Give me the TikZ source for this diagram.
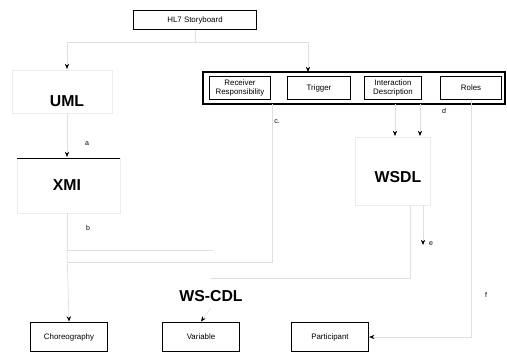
\documentclass[tikz,border=0pt]{standalone}
\usepackage{fontspec}
\setmainfont{Liberation Sans}
\usetikzlibrary{positioning,arrows.meta}
\tikzset{
  box/.style={draw, semithick, align=center, inner sep=1pt, font=\fontsize{4.5}{5}\selectfont},
  title/.style={font=\fontsize{9}{10}\selectfont\bfseries},
  tag/.style={font=\fontsize{4}{4}\selectfont},
  layer/.style={draw=gray!15, thin},
  conn/.style={gray!25, thin},
  tip/.style={-{Stealth[length=3pt,width=2.5pt,color=black]}}
}
\begin{document}
\begin{tikzpicture}[x=0.02cm, y=-0.02cm]
    \useasboundingbox (0,0) rectangle (507,358);

    % Storyboard
    \node[box, thin, minimum width=70pt, minimum height=11pt] (hl7) at (195,20) {HL7 Storyboard};

    % Container with message parts
    \draw[semithick] (203,72) rectangle (505,104);
    \coordinate (cont) at (308,72);
    \foreach \x/\w/\name/\label in {240/35/recv/{Receiver\\Responsibility}, 319/36/trig/Trigger,
                                   393/32/inter/{Interaction\\Description}, 471/35/roles/Roles} {
        \node[box, minimum width=\w pt, minimum height=13pt] (\name) at (\x,88) {\label};
    }

    % Layer regions (faint)
    \draw[layer] (12,70) rectangle (112,113);
    \draw[layer] (17,158) rectangle (120,213);
    \draw[thin] (17,158) -- (120,158);
    \draw[layer] (355,137) rectangle (430,205);

    % Layer titles
    \node[title] (uml) at (67,101) {UML};
    \node[title] (xmi) at (67,185) {XMI};
    \node[title] (wsdl) at (398,177) {WSDL};
    \node[title] (wscdl) at (211,296) {WS-CDL};

    % WS-CDL parts
    \foreach \x/\name/\label in {69/chor/Choreography, 201/var/Variable, 330/part/Participant} {
        \node[box, minimum width=44pt, minimum height=17pt] (\name) at (\x,337) {\label};
    }

    % Storyboard to UML and container
    \coordinate (split) at (195,42);
    \draw[conn] (hl7) -- (split);
    \draw[conn, tip] (split) -| (67,69);
    \draw[conn, tip] (split) -| (cont);

    % UML to XMI
    \draw[conn, tip] (67,113) -- (67,157);
    \node[tag] (ta) at (87,144) {a};

    % XMI to WS-CDL
    \coordinate (xj) at (67,250);
    \draw[conn] (67,213) -- (xj) -- (213,250);
    \draw[conn, tip] (xj) -- (chor.north);
    \node[tag] (tb) at (88,228) {b};

    % container to WS-CDL and WSDL
    \draw[conn] (272,104) -- (272,262) -- (68,262);
    \node[tag] (tc) at (277,122) {c.};
    \draw[conn, tip] (395,104) -- (395,136);
    \draw[conn, tip] (420,104) -- (420,136);
    \node[tag] (td) at (444,111) {d};

    % WSDL to WS-CDL
    \draw[conn] (410,205) -- (410,278) -- (210,278);
    \draw[conn, tip] (423,205) -- (423,245);
    \node[tag] (te) at (431,244) {e};
    \draw[conn, tip] (wscdl.south) -- (var.north);

    % Roles to Participant
    \draw[conn, tip] (roles.south) -- (471,337) -- (part.east);
    \node[tag] (tf) at (486,295) {f};
\end{tikzpicture}
\end{document}
